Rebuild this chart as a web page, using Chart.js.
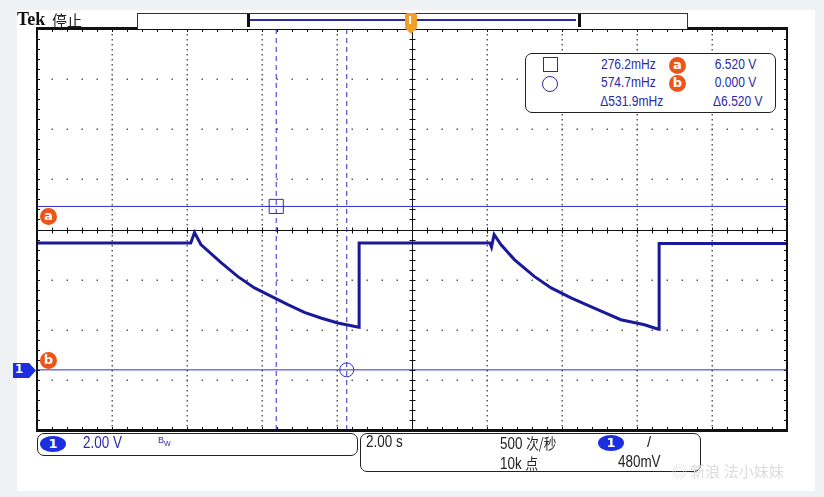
<!DOCTYPE html>
<html>
<head>
<meta charset="utf-8">
<script src="https://cdn.jsdelivr.net/npm/chart.js@4.4.1/dist/chart.umd.min.js"></script>
<style>
  html, body { margin: 0; padding: 0; }
  body { width: 824px; height: 497px; background: #eef2f5; position: relative; overflow: hidden;
         font-family: "Liberation Sans", Arial, sans-serif; }
  #panel { position: absolute; left: 17px; top: 10px; width: 798px; height: 481px; background: #fff; }
  #scope { position: absolute; left: 0; top: 0; }
  .abs { position: absolute; white-space: nowrap; }
  .tk { font-size: 14px; transform: scaleX(0.86); transform-origin: left center; }
  .tkr { font-size: 14px; transform: scaleX(0.86); transform-origin: right center; }
  .tkb { font-size: 16px; transform: scaleX(0.84); transform-origin: left center; }
  .tag { position: absolute; width: 17px; height: 17px; border-radius: 50%; background: #ee5418;
         color: #fff; font: bold 13px "DejaVu Sans", sans-serif; text-align: center; line-height: 16px; }
  .box { position: absolute; border: 1px solid #222; border-radius: 7px; background: #fff; }
  .blue { color: #2a2aa8; }
  .chip { position: absolute; width: 26px; height: 16px; border-radius: 50%; background: #1c2fe0;
          color: #fff; font: bold 13px "DejaVu Sans", sans-serif; text-align: center; line-height: 16px; }
</style>
</head>
<body>
<div id="panel"></div>
<canvas id="scope" width="824" height="497"></canvas>

<!-- barra superior -->
<div class="abs" style="left:17px;top:9px;font:bold 18px 'Liberation Serif',serif;color:#111;">Tek</div>
<div class="abs" style="left:52px;top:11px;font:15px 'Noto Sans CJK SC',sans-serif;color:#222;line-height:18px;">停止</div>
<div class="abs" style="left:137px;top:13px;width:549px;height:15px;border:1px solid #333;border-bottom:none;background:#fff;"></div>
<div class="abs" style="left:247px;top:14px;width:328px;height:13px;border-left:3px solid #111;border-right:3px solid #111;"></div>
<div class="abs" style="left:250px;top:19px;width:326px;height:2px;background:#2a2aa8;"></div>
<div class="abs" style="left:405px;top:13px;width:12px;height:15px;background:#f0a028;border-radius:3px;"></div>
<div class="abs" style="left:404px;top:27px;width:0;height:0;border-left:7px solid transparent;border-right:7px solid transparent;border-top:7px solid #f0a028;"></div>
<div class="abs" style="left:408px;top:14px;font:bold 11px 'DejaVu Sans',sans-serif;color:#fff;">I</div>

<!-- lectura de cursores -->
<div class="box" style="left:525px;top:53px;width:249px;height:58px;"></div>
<div class="abs" style="left:543px;top:57px;width:13px;height:13px;border:1px solid #2a2aa8;"></div>
<div class="abs" style="left:542px;top:76px;width:14px;height:14px;border:1px solid #2a2aa8;border-radius:50%;"></div>
<div class="abs blue tkr" id="r1f" style="right:168px;top:56px;"></div>
<div class="abs blue tkr" id="r2f" style="right:168px;top:74px;"></div>
<div class="abs blue tkr" id="rdf" style="right:161px;top:93px;"></div>
<div class="tag" style="left:669px;top:57px;">a</div>
<div class="tag" style="left:669px;top:75px;">b</div>
<div class="abs blue tkr" id="r1v" style="right:68px;top:56px;"></div>
<div class="abs blue tkr" id="r2v" style="right:68px;top:74px;"></div>
<div class="abs blue tkr" id="rdv" style="right:61px;top:93px;"></div>

<!-- etiquetas de cursores horizontales -->
<div class="tag" style="left:40px;top:208px;">a</div>
<div class="tag" style="left:40px;top:352px;">b</div>
<div class="abs" style="left:13px;top:363px;width:23px;height:15px;background:#1c2fe0;clip-path:polygon(0 0,70% 0,100% 50%,70% 100%,0 100%);"></div>
<div class="abs" style="left:15px;top:362px;font:bold 12px 'DejaVu Sans',sans-serif;color:#fff;">1</div>

<!-- barra inferior -->
<div class="box" style="left:37px;top:433px;width:319px;height:21px;"></div>
<div class="chip" style="left:40px;top:436px;">1</div>
<div class="abs blue tkb" id="vdiv" style="left:83px;top:434px;"></div>
<div class="abs blue" style="left:158px;top:435px;font-size:9px;">B<sub style="font-size:7px;">W</sub></div>
<div class="box" style="left:360px;top:433px;width:339px;height:37px;"></div>
<div class="abs tkb" id="tdiv" style="left:366px;top:433px;color:#222;"></div>
<div class="abs tkb" style="left:500px;top:432px;color:#222;">500 <span style="font-family:'Noto Sans CJK SC';font-size:15px;">次/秒</span></div>
<div class="abs tkb" style="left:500px;top:452px;color:#222;">10k <span style="font-family:'Noto Sans CJK SC';font-size:15px;">点</span></div>
<div class="chip" style="left:598px;top:435px;">1</div>
<div class="abs" style="left:647px;top:433px;font-size:15px;color:#222;">/</div>
<div class="abs tkb" id="trig" style="left:618px;top:453px;color:#222;"></div>
<div class="abs" style="left:672px;top:460px;font:15px 'Noto Sans CJK SC',sans-serif;color:#dcdcdc;">◎ 新浪 法小妹妹</div>

<script>
// Escalas del osciloscopio: 2.00 s/div, 2.00 V/div, tierra 2.8 div bajo el centro
const secPerDiv = 2.0;
const voltPerDiv = 2.0;
const xDivs = 10;
const yDivs = 8;
const groundDivs = 2.8;
const trigLabel = '480mV';

// Traza del canal 1 (tiempo en s, tensión en V)
const traceTime = [-10, -5.90, -5.80, -5.63, -5.09, -4.65, -4.20, -3.67, -3.31, -2.87, -2.43, -1.98, -1.45, -1.41,
                   -1.41, 2.08, 2.12, 2.19, 2.37, 2.73, 3.26, 3.71, 4.24, 4.95, 5.57, 6.20, 6.55, 6.59, 6.59, 10];
const traceVolt = [5.06, 5.06, 5.48, 5.00, 4.28, 3.73, 3.27, 2.87, 2.60, 2.29, 2.07, 1.87, 1.71, 1.70,
                   5.06, 5.06, 4.90, 5.40, 5.00, 4.40, 3.73, 3.27, 2.87, 2.40, 2.00, 1.80, 1.63, 1.62, 5.04, 5.04];

// Cursores y lectura
const cursorFreq = [0.2762, 0.5747];   // Hz
const cursorVolt = [6.520, 0.000];     // V
const cursorTime = cursorFreq.map(f => -1 / f);
const freqLabels = ['276.2mHz', '574.7mHz', '\u0394531.9mHz'];
const voltLabels = ['6.520 V', '0.000 V', '\u03946.520 V'];

const xMin = -secPerDiv * xDivs / 2, xMax = secPerDiv * xDivs / 2;
const yLo = (groundDivs - yDivs / 2) * voltPerDiv;  // -2.4
const yHi = (groundDivs + yDivs / 2) * voltPerDiv;  // 13.6

// textos
['r1f', 'r2f', 'rdf'].forEach((id, i) => document.getElementById(id).textContent = freqLabels[i]);
['r1v', 'r2v', 'rdv'].forEach((id, i) => document.getElementById(id).textContent = voltLabels[i]);
document.getElementById('vdiv').textContent = voltPerDiv.toFixed(2) + ' V';
document.getElementById('tdiv').textContent = secPerDiv.toFixed(2) + ' s';
document.getElementById('trig').textContent = trigLabel;

const cursorColor = '#2d2dc8';

// Retícula estilo Tek
const graticule = {
  id: 'graticule',
  beforeDatasetsDraw(chart) {
    const { ctx, chartArea: a, scales: { x, y } } = chart;
    const w = a.right - a.left, h = a.bottom - a.top;
    ctx.save();
    ctx.fillStyle = '#5a5a5a';
    // líneas verticales punteadas
    for (let i = 1; i < xDivs; i++) {
      if (i === xDivs / 2) continue;
      const px = Math.round(x.getPixelForValue(xMin + i * secPerDiv));
      for (let k = 1; k < yDivs * 10; k++) {
        ctx.fillRect(px - 0.5, Math.round(a.top + k * h / (yDivs * 10)), 1.5, 1.5);
      }
    }
    // líneas horizontales punteadas
    for (let j = 1; j < yDivs; j++) {
      if (j === yDivs / 2) continue;
      const py = Math.round(y.getPixelForValue(yLo + j * voltPerDiv));
      for (let k = 1; k < xDivs * 5; k++) {
        ctx.fillRect(Math.round(a.left + k * w / (xDivs * 5)) - 0.5, py - 0.5, 1.5, 1.5);
      }
    }
    // ejes centrales
    const cx = Math.round(x.getPixelForValue(0)) + 0.5;
    const cy = Math.round(y.getPixelForValue(yLo + yDivs / 2 * voltPerDiv)) + 0.5;
    ctx.strokeStyle = '#111';
    ctx.lineWidth = 1;
    ctx.beginPath();
    ctx.moveTo(a.left, cy); ctx.lineTo(a.right, cy);
    ctx.moveTo(cx, a.top); ctx.lineTo(cx, a.bottom);
    for (let k = 1; k < xDivs * 5; k++) {
      const px = Math.round(a.left + k * w / (xDivs * 5)) + 0.5;
      ctx.moveTo(px, cy - 3); ctx.lineTo(px, cy + 3);
      ctx.moveTo(px, a.top); ctx.lineTo(px, a.top + 3);
      ctx.moveTo(px, a.bottom); ctx.lineTo(px, a.bottom - 3);
    }
    for (let k = 1; k < yDivs * 5; k++) {
      const py = Math.round(a.top + k * h / (yDivs * 5)) + 0.5;
      ctx.moveTo(cx - 3, py); ctx.lineTo(cx + 3, py);
      ctx.moveTo(a.left, py); ctx.lineTo(a.left + 3, py);
      ctx.moveTo(a.right, py); ctx.lineTo(a.right - 3, py);
    }
    ctx.stroke();
    ctx.restore();
  },
  afterDatasetsDraw(chart) {
    const { ctx, chartArea: a } = chart;
    ctx.save();
    ctx.strokeStyle = '#111';
    ctx.lineWidth = 2;
    ctx.strokeRect(a.left, a.top, a.right - a.left, a.bottom - a.top);
    ctx.fillStyle = '#111';
    ctx.fillRect(a.left - 1, a.top - 2, a.right - a.left + 2, 2);
    ctx.fillRect(a.left - 1, a.bottom - 1, a.right - a.left + 2, 3);
    ctx.restore();
  }
};

const traceData = traceTime.map((t, i) => ({ x: t, y: traceVolt[i] }));

const datasets = [
  {
    label: 'CH1',
    data: traceData,
    showLine: true,
    borderColor: '#1a1a98',
    borderWidth: 3,
    pointRadius: 0,
    tension: 0,
    order: 1
  }
];
cursorTime.forEach((t, i) => {
  datasets.push({
    label: 'cursor t' + (i + 1),
    data: [{ x: t, y: yLo }, { x: t, y: yHi }],
    showLine: true, borderColor: cursorColor, borderWidth: 1, borderDash: [5, 4],
    pointRadius: 0, order: 2
  });
});
cursorVolt.forEach((v, i) => {
  datasets.push({
    label: 'cursor v' + (i + 1),
    data: [{ x: xMin, y: v }, { x: xMax, y: v }],
    showLine: true, borderColor: cursorColor, borderWidth: 1,
    pointRadius: 0, order: 2
  });
});
datasets.push({
  label: 'marcas',
  data: [{ x: cursorTime[0], y: cursorVolt[0] }, { x: cursorTime[1], y: cursorVolt[1] }],
  showLine: false,
  pointStyle: ['rect', 'circle'],
  pointRadius: [10, 7],
  pointBorderWidth: 1,
  pointBorderColor: cursorColor,
  pointBackgroundColor: 'rgba(0,0,0,0)',
  order: 0
});

new Chart(document.getElementById('scope'), {
  type: 'scatter',
  data: { datasets },
  options: {
    responsive: false,
    animation: false,
    devicePixelRatio: 1,
    layout: { padding: { left: 37, right: 37, top: 29, bottom: 67 } },
    plugins: { legend: { display: false }, tooltip: { enabled: false } },
    scales: {
      x: { type: 'linear', min: xMin, max: xMax, display: false },
      y: { type: 'linear', min: yLo, max: yHi, display: false }
    }
  },
  plugins: [graticule]
});
</script>
</body>
</html>
